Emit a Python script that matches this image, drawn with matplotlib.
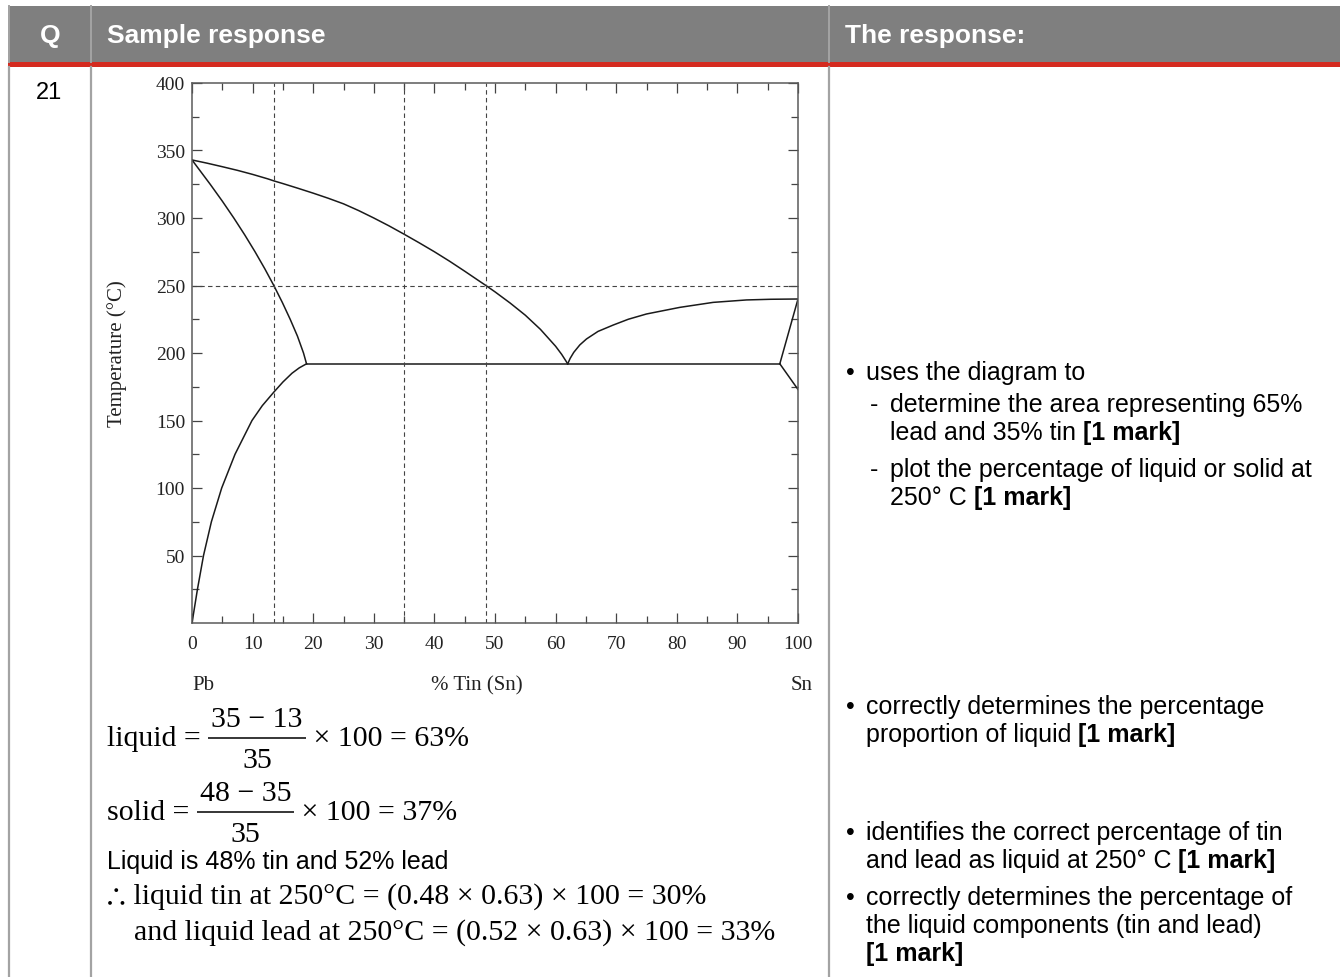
import matplotlib
matplotlib.use('Agg')
import matplotlib.pyplot as plt
from matplotlib.patches import Rectangle

# Pb-Sn phase diagram (x = % Sn, t = temperature in C)
liq_pb_x = [0, 2.5, 5, 7.5, 10, 12.5, 13.5, 15, 17.5, 20, 22.5, 25, 27.5, 30, 32.5, 35,
            37.5, 40, 42.5, 45, 47.5, 48.5, 50, 52.5, 55, 57.5, 60, 61, 62]
liq_pb_t = [343, 340.6, 338, 335.3, 332.3, 329, 327.5, 325.5, 322, 318.4, 314.6, 310.5, 305.5,
            300, 294.2, 288, 281.6, 275, 268, 260.6, 253, 250, 245.3, 237, 228, 217.5, 205, 199, 192]
sol_pb_x = [0, 3.0, 5.0, 6.9, 8.7, 10.4, 12.0, 13.5, 14.9, 16.2, 17.4, 18.4, 18.9]
sol_pb_t = [343, 325, 312.5, 300, 287.5, 275, 262.5, 250, 237.5, 225, 212.5, 200, 192]
solvus_pb_x = [0, 0.9, 1.9, 3.2, 4.9, 7.1, 9.9, 11.6, 13.5, 15.0, 16.5, 17.7, 18.9]
solvus_pb_t = [0, 25, 50, 75, 100, 125, 150, 161, 171, 178.5, 185, 189, 192]
eut_x = [18.9, 97]
eut_t = [192, 192]
liq_sn_x = [62, 62.4, 63, 64, 65.1, 67, 69.5, 72, 75, 80.5, 86, 91.5, 95.5, 100]
liq_sn_t = [192, 196, 200.5, 206, 210.4, 216, 220.7, 225, 228.9, 233.8, 237.5, 239.3, 239.8, 240]
sol_sn_x = [97, 100]
sol_sn_t = [192, 240]
solvus_sn_x = [97, 100]
solvus_sn_t = [192, 173]

guide_x = [13.5, 35, 48.5]
guide_t = 250

x_ticks = list(range(0, 101, 10))
y_ticks = [50, 100, 150, 200, 250, 300, 350, 400]

headers = ['Q', 'Sample response', 'The response:']
question = '21'

W, H = 1340, 978
fig = plt.figure(figsize=(W / 100, H / 100), dpi=100)

# page layer in pixel coordinates
bg = fig.add_axes([0, 0, 1, 1])
bg.set_xlim(0, W)
bg.set_ylim(H, 0)
bg.axis('off')

bg.add_patch(Rectangle((8, 7), W - 8, 57, color='#7f7f7f', lw=0))
bg.add_patch(Rectangle((8, 63), W - 8, 5, color='#d42a1f', lw=0))
for xv in [9, 91, 829]:
    bg.plot([xv, xv], [7, 63], color='#a3a3a3', lw=1.4)
    bg.plot([xv, xv], [68, H], color='#a3a3a3', lw=1.6)

sans = 'Liberation Sans'
serif = ['Liberation Serif', 'STIXGeneral', 'DejaVu Sans']
bg.text(50, 36, headers[0], ha='center', va='center', color='white',
        fontsize=19, fontweight='bold', family=sans)
bg.text(107, 36, headers[1], ha='left', va='center', color='white',
        fontsize=19, fontweight='bold', family=sans)
bg.text(845, 36, headers[2], ha='left', va='center', color='white',
        fontsize=19, fontweight='bold', family=sans)
bg.text(49, 93, question, ha='center', va='center', fontsize=17, family=sans)

renderer = fig.canvas.get_renderer()


def width_of(t):
    return t.get_window_extent(renderer=renderer).width


def runs(x, y, parts, size=18):
    # write regular / bold pieces one after another on a line
    for txt, bold in parts:
        t = bg.text(x, y, txt, ha='left', va='center', fontsize=size, family=sans,
                    fontweight='bold' if bold else 'normal')
        x += width_of(t)


FS = 21.5


def frac_line(x, bar_y, left, num, den, right):
    t = bg.text(x, bar_y + 7.5, left, va='baseline', fontsize=FS, family=serif)
    x += width_of(t)
    tn = bg.text(0, bar_y - 12, num, ha='center', va='baseline', fontsize=FS, family=serif)
    td = bg.text(0, bar_y + 29, den, ha='center', va='baseline', fontsize=FS, family=serif)
    wbar = max(width_of(tn), width_of(td)) + 6
    tn.set_x(x + wbar / 2)
    td.set_x(x + wbar / 2)
    bg.plot([x, x + wbar], [bar_y, bar_y], color='black', lw=1.1, solid_capstyle='butt')
    bg.text(x + wbar, bar_y + 7.5, right, va='baseline', fontsize=FS, family=serif)


# right column
bullet_x, text_x, dash_x, sub_x = 846, 866, 870, 890
bg.text(bullet_x, 373, '\u2022', va='center', fontsize=18, family=sans)
runs(text_x, 373, [('uses the diagram to', False)])
bg.text(dash_x, 405, '-', va='center', fontsize=18, family=sans)
runs(sub_x, 405, [('determine the area representing 65%', False)])
runs(sub_x, 433, [('lead and 35% tin ', False), ('[1 mark]', True)])
bg.text(dash_x, 470, '-', va='center', fontsize=18, family=sans)
runs(sub_x, 470, [('plot the percentage of liquid or solid at', False)])
runs(sub_x, 498, [('250\u00b0 C ', False), ('[1 mark]', True)])

bg.text(bullet_x, 707, '\u2022', va='center', fontsize=18, family=sans)
runs(text_x, 707, [('correctly determines the percentage', False)])
runs(text_x, 735, [('proportion of liquid ', False), ('[1 mark]', True)])
bg.text(bullet_x, 833, '\u2022', va='center', fontsize=18, family=sans)
runs(text_x, 833, [('identifies the correct percentage of tin', False)])
runs(text_x, 861, [('and lead as liquid at 250\u00b0 C ', False), ('[1 mark]', True)])
bg.text(bullet_x, 898, '\u2022', va='center', fontsize=18, family=sans)
runs(text_x, 898, [('correctly determines the percentage of', False)])
runs(text_x, 926, [('the liquid components (tin and lead)', False)])
runs(text_x, 954, [('[1 mark]', True)])

# left column working
frac_line(107, 739, 'liquid = ', '35 \u2212 13', '35', ' \u00d7 100 = 63%')
frac_line(107, 813, 'solid = ', '48 \u2212 35', '35', ' \u00d7 100 = 37%')
runs(107, 862, [('Liquid is 48% tin and 52% lead', False)])
tf = bg.text(107, 904, '\u2234', va='baseline', fontsize=FS, family=['STIXGeneral', 'DejaVu Sans'])
bg.text(107 + width_of(tf), 904,
        ' liquid tin at 250\u00b0C = (0.48 \u00d7 0.63) \u00d7 100 = 30%',
        va='baseline', fontsize=FS, family=serif)
bg.text(134, 940, 'and liquid lead at 250\u00b0C = (0.52 \u00d7 0.63) \u00d7 100 = 33%',
        va='baseline', fontsize=FS, family=serif)

# phase diagram
ax = fig.add_axes([192 / W, 1 - 624 / H, 606 / W, 540 / H])
ax.set_facecolor('none')
ax.set_xlim(0, 100)
ax.set_ylim(0, 400)

for xs, ts in [(liq_pb_x, liq_pb_t), (sol_pb_x, sol_pb_t), (solvus_pb_x, solvus_pb_t),
               (eut_x, eut_t), (liq_sn_x, liq_sn_t), (sol_sn_x, sol_sn_t),
               (solvus_sn_x, solvus_sn_t)]:
    ax.plot(xs, ts, color='#1a1a1a', lw=1.1, solid_joinstyle='round')

for gx in guide_x:
    ax.axvline(gx, color='#444444', lw=0.8, ls=(0, (4, 3)))
ax.axhline(guide_t, color='#444444', lw=0.8, ls=(0, (4, 3)))

for s in ax.spines.values():
    s.set_color('#5a5a5a')
    s.set_linewidth(1.1)

ax.set_xticks(x_ticks)
ax.set_xticks(range(5, 100, 10), minor=True)
ax.set_yticks(y_ticks)
ax.set_yticks(range(25, 400, 50), minor=True)
ax.tick_params(which='both', direction='in', top=True, right=True, color='#444444', width=0.9)
ax.tick_params(which='major', length=7)
ax.tick_params(which='minor', length=5)
ax.tick_params(axis='x', pad=9)
ax.tick_params(axis='y', pad=5)
for lab in ax.get_xticklabels() + ax.get_yticklabels():
    lab.set_family(serif)
    lab.set_fontsize(14)
    lab.set_color('#222222')

bg.text(117, 354, 'Temperature (\u00b0C)', rotation=90, ha='center', va='center',
        fontsize=15, family=serif, color='#222222')
bg.text(203, 686, 'Pb', ha='center', va='center', fontsize=15, family=serif, color='#222222')
bg.text(477, 686, '% Tin (Sn)', ha='center', va='center', fontsize=15, family=serif, color='#222222')
bg.text(802, 686, 'Sn', ha='center', va='center', fontsize=15, family=serif, color='#222222')

fig.savefig('out.png', dpi=100)
